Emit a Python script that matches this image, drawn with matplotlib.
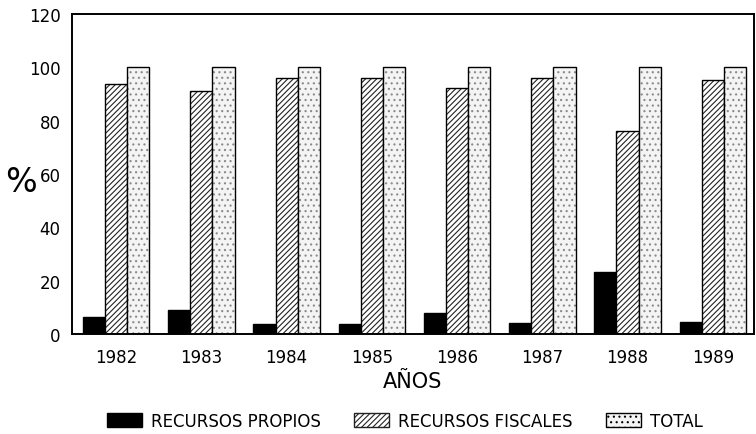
import numpy as np
import matplotlib
matplotlib.use("Agg")
import matplotlib.pyplot as plt
from matplotlib.patches import Patch

plt.rcParams["font.family"] = ["DejaVu Sans"]
plt.rcParams["hatch.linewidth"] = 0.8

years      = ["1982", "1983", "1984", "1985", "1986", "1987", "1988", "1989"]
propios    = [6.5, 9.0, 3.8, 3.8, 7.8, 4.0, 23.3, 4.5]
fiscales   = [93.5, 91.0, 96.0, 96.0, 92.0, 95.8, 76.0, 95.0]
total      = [100, 100, 100, 100, 100, 100, 100, 100]
labels     = ["RECURSOS PROPIOS", "RECURSOS FISCALES", "TOTAL"]

DOT_BG = "#f4f4f4"
DOT_FG = "#8a8a8a"

fig = plt.figure(figsize=(7.56, 4.35), dpi=100)
ax = fig.add_axes([0.095, 0.230, 0.902, 0.736])

x = np.arange(len(years))
w = 0.26
ax.bar(x - w, propios, w, color="black", edgecolor="black", linewidth=1.0)
ax.bar(x, fiscales, w, color="white", edgecolor="#222222", hatch="//////", linewidth=0)
ax.bar(x, fiscales, w, fill=False, edgecolor="black", linewidth=1.0)
# stippled total bars: gray dots, black outline
ax.bar(x + w, total, w, color=DOT_BG, edgecolor=DOT_FG, hatch="...", linewidth=0)
ax.bar(x + w, total, w, fill=False, edgecolor="black", linewidth=1.0)

ax.set_xlim(-0.52, 7.48)
ax.set_ylim(0, 120)
ax.set_yticks(range(0, 121, 20))
ax.set_xticks(x)
ax.set_xticklabels(years)
ax.tick_params(axis="both", length=0, labelsize=12)
ax.tick_params(axis="y", pad=8)
ax.tick_params(axis="x", pad=10)
for s in ax.spines.values():
    s.set_linewidth(1.4)

ax.set_xlabel("AÑOS", fontsize=15, labelpad=4)
fig.text(0.028, 1 - 183 / 435, "%", fontsize=24, ha="center", va="center")

handles = [
    Patch(facecolor="black", edgecolor="black"),
    Patch(facecolor="white", edgecolor="#222222", hatch="//////"),
    Patch(facecolor=DOT_BG, edgecolor="black", hatch="..."),
]
fig.legend(handles, labels, loc="center", bbox_to_anchor=(405 / 756, 1 - 422 / 435),
           ncol=3, frameon=False, fontsize=12, handlelength=2.1, handleheight=0.9,
           columnspacing=2.0, handletextpad=0.55)

fig.savefig("out.png", dpi=100)
